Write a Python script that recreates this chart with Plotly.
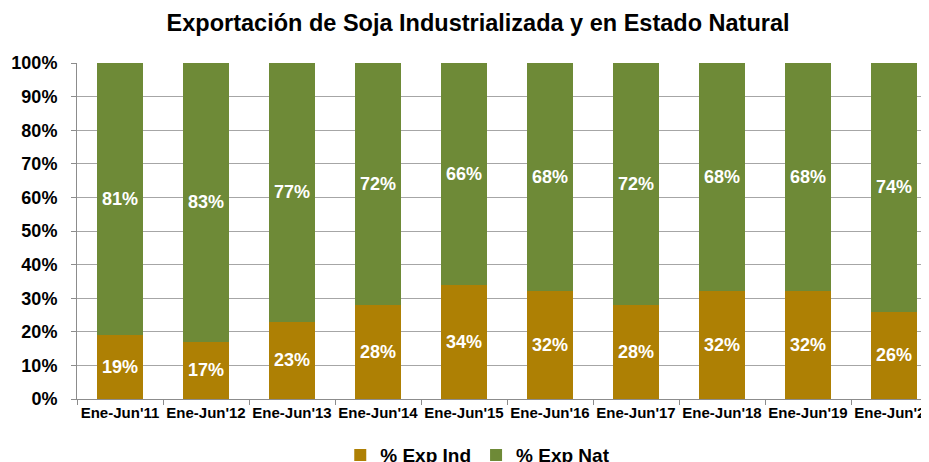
import plotly.graph_objects as go

categories = ["Ene-Jun'11", "Ene-Jun'12", "Ene-Jun'13", "Ene-Jun'14", "Ene-Jun'15",
              "Ene-Jun'16", "Ene-Jun'17", "Ene-Jun'18", "Ene-Jun'19", "Ene-Jun'20"]
exp_ind = [19, 17, 23, 28, 34, 32, 28, 32, 32, 26]
exp_nat = [81, 83, 77, 72, 66, 68, 72, 68, 68, 74]
y_ticks = [0, 10, 20, 30, 40, 50, 60, 70, 80, 90, 100]

FONT = "Liberation Sans, Arial, sans-serif"

fig = go.Figure()
fig.add_trace(go.Bar(
    x=categories, y=exp_ind, name="% Exp Ind",
    marker=dict(color="#AE8004", line=dict(width=0)),
    text=[f"{v}%" for v in exp_ind], textposition="inside",
    insidetextanchor="middle",
    textfont=dict(family=FONT, size=18, color="white", weight="bold"),
))
fig.add_trace(go.Bar(
    x=categories, y=exp_nat, name="% Exp Nat",
    marker=dict(color="#6E8A37", line=dict(width=0)),
    text=[f"{v}%" for v in exp_nat], textposition="inside",
    insidetextanchor="middle",
    textfont=dict(family=FONT, size=18, color="white", weight="bold"),
))

fig.update_layout(
    barmode="stack",
    bargap=0.465,
    width=929, height=462,
    margin=dict(l=69, r=0, t=55, b=71, autoexpand=False),
    paper_bgcolor="white", plot_bgcolor="white",
    font=dict(family=FONT, color="black"),
    title=dict(text="<b>Exportación de Soja Industrializada y en Estado Natural</b>",
               x=0.506, xanchor="center", y=0.9675, yanchor="middle",
               font=dict(family=FONT, size=23.5, color="black")),
    showlegend=True,
    legend=dict(orientation="h", x=0.466, xanchor="center", y=-0.167, yanchor="middle",
                font=dict(family=FONT, size=19, color="black", weight="bold"),
                traceorder="normal", itemwidth=30),
    uniformtext=dict(mode=False),
)
fig.update_xaxes(
    type="category", range=[-0.5, 9.5], automargin=False, tickangle=0,
    showline=True, linecolor="#8C8C8C", linewidth=1,
    ticks="outside", tickson="boundaries", ticklen=5, tickcolor="#8C8C8C",
    showgrid=False,
    tickfont=dict(family=FONT, size=15, color="black", weight="bold"),
)
fig.update_yaxes(
    range=[0, 100], tickvals=y_ticks, ticktext=[f"{v}%" for v in y_ticks],
    automargin=False, ticklabelstandoff=10,
    showline=True, linecolor="#8C8C8C", linewidth=1,
    ticks="outside", ticklen=5, tickcolor="#8C8C8C",
    showgrid=True, gridcolor="#A6A6A6", gridwidth=1,
    zeroline=False,
    tickfont=dict(family=FONT, size=18, color="black", weight="bold"),
)

fig.write_html("out.html")
